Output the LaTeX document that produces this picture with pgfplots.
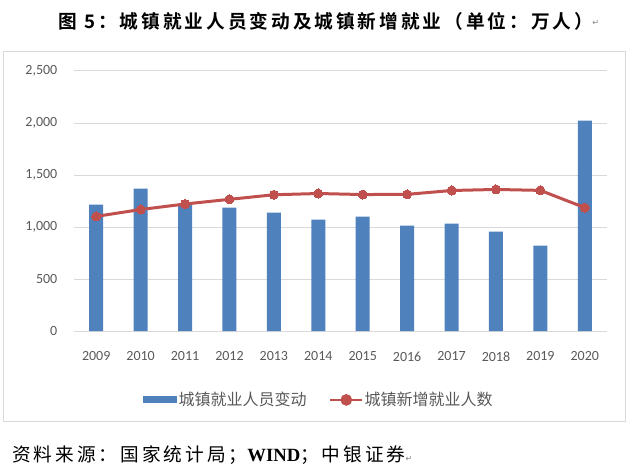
\documentclass[border=0pt]{standalone}
\usepackage{pgfplots}
\pgfplotsset{compat=1.18}
\usepackage{fontspec}
\setmainfont{Carlito}
\newfontfamily\cjk{Noto Sans CJK SC}
\newfontfamily\cjkt[LetterSpace=16]{Noto Sans CJK SC Bold}
\newfontfamily\cjks[LetterSpace=16]{Noto Sans CJK SC}
\newfontfamily\lser{Liberation Serif}
\newfontfamily\sym{DejaVu Sans}
\definecolor{barblue}{HTML}{4F81BD}
\definecolor{linered}{HTML}{C0504D}
\definecolor{gridgray}{HTML}{D9D9D9}
\definecolor{ticktext}{HTML}{595959}
\begin{document}
\begin{tikzpicture}
\useasboundingbox (0,0) rectangle (480pt,354pt);
\draw[gridgray, line width=0.75pt] (2.25pt,315pt) rectangle (468.75pt,37.5pt);
\node[anchor=west, inner sep=0pt, font=\cjkt\fontsize{14}{16}\selectfont] at (43.5pt,338pt) {图 5：城镇就业人员变动及城镇新增就业（单位：万人）};
\node[anchor=west, inner sep=0pt, font=\sym\fontsize{6}{7}\selectfont, text=gray] at (444pt,336.5pt) {↵};
\node[anchor=west, inner sep=0pt, font=\cjks\fontsize{14}{16}\selectfont] at (9pt,12.75pt) {资料来源：国家统计局；{\lser\bfseries WIND}；中银证券{\sym\fontsize{6}{7}\selectfont\textcolor{gray}{↵}}};
\begin{axis}[
  at={(55.5pt,105.75pt)}, anchor=south west,
  scale only axis, width=399.75pt, height=195pt,
  xmin=-0.5, xmax=11.5, ymin=0, ymax=2500,
  xtick={0,...,11},
  xticklabels={2009,2010,2011,2012,2013,2014,2015,2016,2017,2018,2019,2020},
  ytick={0,500,1000,1500,2000,2500},
  /pgf/number format/fixed,
  /pgf/number format/1000 sep={,},
  /pgf/number format/assume math mode=true,
  tick label style={font=\fontsize{10.5}{12}\selectfont, text=ticktext},
  major tick length=0pt,
  ymajorgrids, grid style={gridgray, line width=0.75pt},
  axis line style={draw=none},
  axis x line*=bottom, axis y line*=left,
  xticklabel style={yshift=-12pt},
  yticklabel style={xshift=-9pt},
  legend style={at={(0.459,-0.265)}, anchor=center, draw=none, fill=none,
    legend columns=2, font=\cjk\fontsize{12}{14}\selectfont, text=ticktext,
    nodes={inner sep=1pt},
    /tikz/every odd column/.append style={column sep=0pt},
    /tikz/every even column/.append style={column sep=16pt},
    inner sep=0pt},
  legend cell align=left,
]
\addplot[ybar, bar width=10.5pt, fill=barblue, draw=none,
  legend image code/.code={\fill[barblue] (0pt,-2.6pt) rectangle (25.5pt,2.6pt);}]
  coordinates {(0,1215) (1,1368) (2,1224) (3,1186) (4,1138) (5,1071) (6,1100) (7,1013) (8,1033) (9,956) (10,822) (11,2024)};
\addlegendentry{城镇就业人员变动}
\addplot[linered, line width=2.25pt, mark=*, mark size=3.4pt, mark options={fill=linered, draw=linered, line width=0pt},
  legend image code/.code={\draw[linered, line width=1.5pt] (0pt,0pt) -- (24pt,0pt); \fill[linered] (12pt,0pt) circle (3.2pt);}]
  coordinates {(0,1102) (1,1168) (2,1221) (3,1266) (4,1310) (5,1322) (6,1312) (7,1314) (8,1351) (9,1361) (10,1352) (11,1186)};
\addlegendentry{城镇新增就业人数}
\end{axis}
\end{tikzpicture}
\end{document}
